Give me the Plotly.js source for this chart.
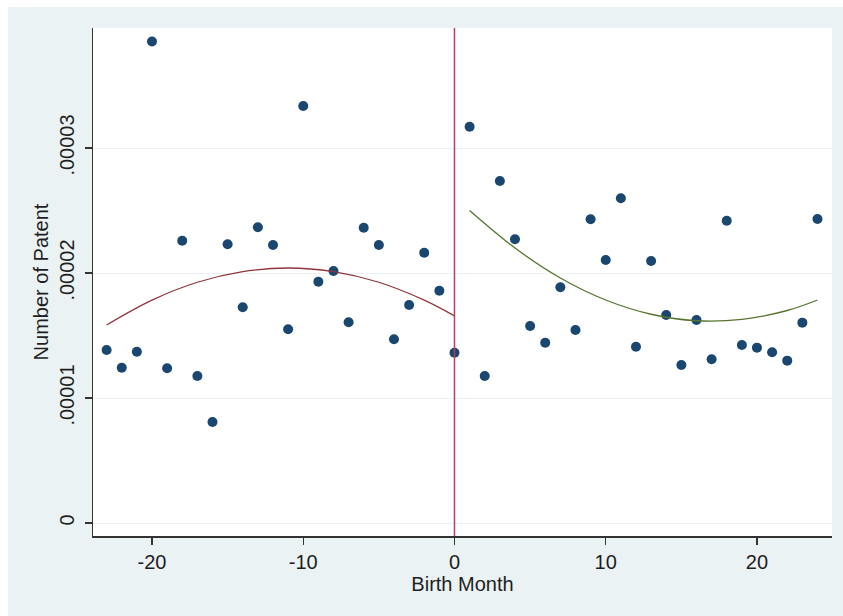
<!DOCTYPE html>
<html>
<head>
<meta charset="utf-8">
<script src="https://cdn.plot.ly/plotly-3.0.1.min.js"></script>
<style>
html,body{margin:0;padding:0;background:#ffffff;}
#chart{position:absolute;left:8px;top:7px;width:835px;height:609px;}
</style>
</head>
<body>
<div id="chart"></div>
<script>
// Birth month relative to cutoff
const months = [-23,-22,-21,-20,-19,-18,-17,-16,-15,-14,-13,-12,-11,-10,-9,-8,-7,-6,-5,-4,-3,-2,-1,0,
                 1,2,3,4,5,6,7,8,9,10,11,12,13,14,15,16,17,18,19,20,21,22,23,24];
// Number of patent (units of 1e-5)
const patents = [1.384,1.242,1.370,3.852,1.238,2.258,1.176,0.808,2.230,1.726,2.366,2.224,1.550,3.336,1.930,2.016,1.606,2.362,2.224,1.470,1.744,2.162,1.858,1.362,
                 3.170,1.176,2.736,2.270,1.576,1.442,1.886,1.544,2.430,2.104,2.598,1.410,2.096,1.664,1.264,1.624,1.310,2.418,1.424,1.403,1.366,1.299,1.603,2.432];
// Quadratic fit curve, left of cutoff
const fitLeftX = [-23,-20,-17,-14,-11,-8,-5,-2,0];
const fitLeftY = [1.584,1.783,1.926,2.011,2.040,2.011,1.926,1.783,1.657];
// Quadratic fit curve, right of cutoff
const fitRightX = [1,4,7,10,13,16,19,22,24];
const fitRightY = [2.500,2.200,1.960,1.784,1.670,1.618,1.629,1.700,1.784];
// Axis ticks
const xTicks = [-20,-10,0,10,20];
const xTickText = ['-20','-10','0','10','20'];
const yTicks = [0,0.00001,0.00002,0.00003];
const yTickText = ['0','.00001','.00002','.00003'];

const S = 1e-5;
const scale = a => a.map(v => v*S);

const traces = [
  {x: months, y: scale(patents), type:'scatter', mode:'markers',
   marker:{color:'#1a476f', size:10, symbol:'circle'}, hoverinfo:'x+y'},
  {x: fitLeftX, y: scale(fitLeftY), type:'scatter', mode:'lines',
   line:{color:'#90353b', width:1.3, shape:'spline'}},
  {x: fitRightX, y: scale(fitRightY), type:'scatter', mode:'lines',
   line:{color:'#55752f', width:1.3, shape:'spline'}}
];

const fontFam = 'Liberation Sans, Arial, sans-serif';
const txt = '#1e1e1e';
const layout = {
  width:835, height:609,
  paper_bgcolor:'#eaf2f3', plot_bgcolor:'#ffffff',
  margin:{l:85, r:11, t:21, b:80},
  showlegend:false,
  font:{family:fontFam, size:20, color:txt},
  xaxis:{range:[-23.9,24.96], tickvals:xTicks, ticktext:xTickText,
    showgrid:false, zeroline:false, showline:true, linecolor:'#333', linewidth:1.5,
    ticks:'outside', ticklen:7, tickwidth:1.3, tickcolor:'#333',
    tickfont:{family:fontFam, size:20, color:txt},
    title:{text:'Birth Month', font:{family:fontFam, size:20, color:txt}, standoff:0}},
  yaxis:{range:[-0.00000104,0.0000396], tickvals:yTicks, ticktext:yTickText,
    tickangle:-90, ticklabelstandoff:3,
    showgrid:true, gridcolor:'#eaf2f3', gridwidth:1, zeroline:false,
    showline:true, linecolor:'#333', linewidth:1.5,
    ticks:'outside', ticklen:7, tickwidth:1.3, tickcolor:'#333',
    tickfont:{family:fontFam, size:20, color:txt},
    title:{text:'Number of Patent', font:{family:fontFam, size:20, color:txt}, standoff:1}},
  shapes:[{type:'line', xref:'x', yref:'paper', x0:0, x1:0, y0:0, y1:1,
    line:{color:'#b5405f', width:1.5}}]
};

Plotly.newPlot('chart', traces, layout, {displayModeBar:false, staticPlot:true});
</script>
</body>
</html>
